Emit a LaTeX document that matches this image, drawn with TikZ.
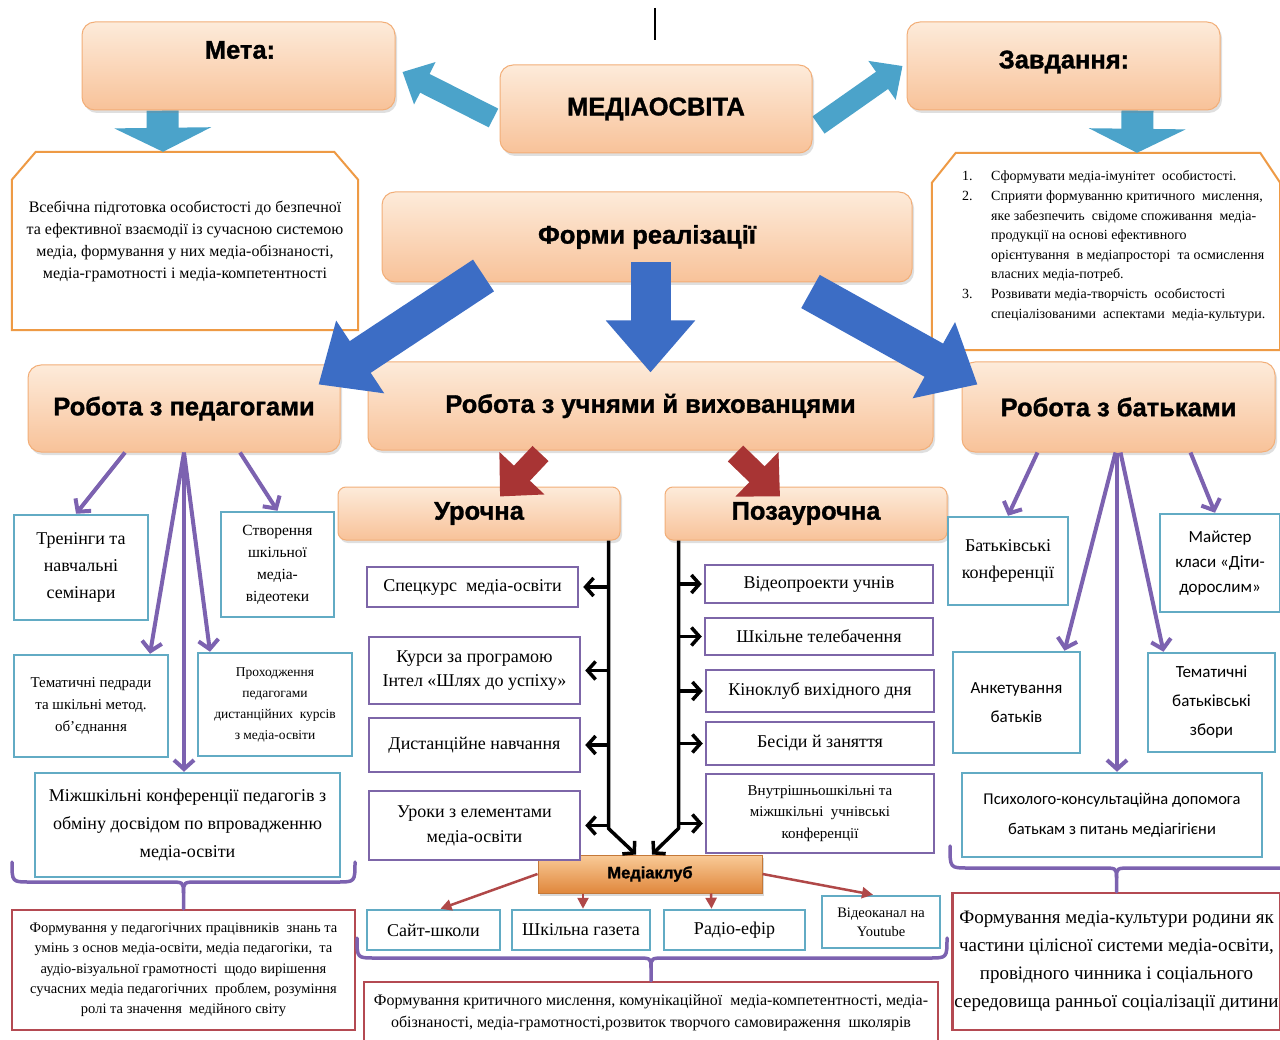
\documentclass[tikz,border=0pt]{standalone}
\usepackage{fontspec}
\setmainfont{Liberation Serif}
\newfontfamily\hdrfont{Liberation Sans}[BoldFeatures={FakeBold=1.2}]
\newfontfamily\calfont{Carlito}
\usetikzlibrary{arrows.meta,shadows,calc}
\pgfdeclarelayer{bg}
\pgfsetlayers{bg,main}
\definecolor{obTop}{HTML}{FDEBDA}
\definecolor{obBot}{HTML}{F8C299}
\definecolor{obLine}{HTML}{F2AE78}
\definecolor{mcTop}{HTML}{F9CB98}
\definecolor{mcBot}{HTML}{E0873C}
\definecolor{mcLine}{HTML}{C47838}
\definecolor{ltBlue}{HTML}{4BA3CA}
\definecolor{dkBlue}{HTML}{3C6DC5}
\definecolor{rArr}{HTML}{A83434}
\definecolor{rThin}{HTML}{B04848}
\definecolor{purp}{HTML}{7C62B0}
\definecolor{pBox}{HTML}{7D66A8}
\definecolor{tealB}{HTML}{62ABC4}
\definecolor{redB}{HTML}{B44A52}
\definecolor{octO}{HTML}{EE9A45}
\begin{document}
\begin{tikzpicture}[x=1pt,y=-1pt,
  obox/.style={rounded corners=13pt, draw=obLine, line width=1pt, top color=obTop, bottom color=obBot,
    drop shadow={opacity=0.25, shadow xshift=2pt, shadow yshift=-3pt}, inner sep=0pt},
  hd/.style={font=\hdrfont\bfseries\fontsize{25.5}{30}\selectfont},
  mcbox/.style={draw=mcLine, line width=1pt, top color=mcTop, bottom color=mcBot,
    drop shadow={opacity=0.3, shadow xshift=2pt, shadow yshift=-3pt}, inner sep=0pt,
    font=\hdrfont\bfseries\fontsize{16.5}{20}\selectfont},
  wbox/.style={draw, line width=2.5pt, fill=white, inner sep=2pt, align=center, font=\fontsize{18}{24}\selectfont},
  pbx/.style={wbox, draw=pBox},
  tbx/.style={wbox, draw=tealB},
  rbx/.style={wbox, draw=redB},
  octl/.style={draw=octO, line width=2pt, fill=white},
  lba/.style={draw=ltBlue, line width=32pt, -{Triangle[length=24pt,width=96pt]}},
  lbd/.style={draw=ltBlue, line width=21pt, -{Triangle[length=25pt,width=46pt]}},
  dba/.style={draw=dkBlue, line width=40pt, -{Triangle[length=52pt,width=86pt]}},
  dbd/.style={draw=dkBlue, line width=38pt, -{Triangle[length=50pt,width=84pt]}},
  ra/.style={draw=rArr, line width=22pt, -{Triangle[length=32pt,width=60pt]}},
  pa/.style={draw=purp, line width=4pt, -{Straight Barb[length=9pt,width=20pt]}},
  blk/.style={draw=black, line width=3.5pt, line join=round, -{Straight Barb[length=8pt,width=18pt]}},
  rth/.style={draw=rThin, line width=2.5pt, -{Triangle[length=11pt,width=11pt]}},
  brc/.style={draw=purp, line width=3.5pt, line cap=round, line join=round}]
\useasboundingbox (0,0) rectangle (1280,1040);

% orange boxes
\node[obox, minimum width=313pt, minimum height=88pt] (meta) at (238.5,66) {};
\node[hd] (metaT) at (240,50) {Мета:};
\node[obox, minimum width=312pt, minimum height=88pt, hd] (mo) at (656,109) {МЕДІАОСВІТА};
\node[obox, minimum width=313pt, minimum height=88pt] (zav) at (1063.5,66) {};
\node[hd] (zavT) at (1064,62) {Завдання:};
\node[obox, minimum width=530pt, minimum height=90pt, hd] (forms) at (647,237) {Форми реалізації};
\node[obox, minimum width=312pt, minimum height=87pt, hd] (ped) at (184,408.5) {Робота з педагогами};
\node[obox, minimum width=565pt, minimum height=88pt, hd] (uch) at (650.5,406) {Робота з учнями й вихованцями};
\node[obox, minimum width=313pt, minimum height=90pt, hd] (bat) at (1118.5,407) {Робота з батьками};
\node[obox, rounded corners=8pt, minimum width=282pt, minimum height=53pt, hd] (uro) at (479,513.5) {Урочна};
\node[obox, rounded corners=8pt, minimum width=282pt, minimum height=53pt, hd] (poz) at (806,513.5) {Позаурочна};
\node[mcbox, minimum width=224pt, minimum height=38pt] (mc) at (650,874) {Медіаклуб};

% text boxes at top
\node[minimum width=346pt, minimum height=178pt, inner sep=0pt, align=center, font=\fontsize{16}{22}\selectfont] (lt) at (185,241)
 {Всебічна підготовка особистості до безпечної\\та ефективної взаємодії із сучасною системою\\медіа, формування у них медіа-обізнаності,\\медіа-грамотності і медіа-компетентності};
\node[minimum width=348pt, minimum height=197pt, inner sep=0pt] (rt) at (1106,251.5) {};
\node[anchor=north west, inner sep=0pt, font=\fontsize{14}{19.6}\selectfont] (rtT) at (962,167)
 {\begin{tabular}{@{}p{29pt}@{}l@{}}
 1. & Сформувати медіа-імунітет\ \ особистості.\\
 2. & Сприяти формуванню критичного\ \ мислення,\\
    & яке забезпечить\ \ свідоме споживання\ \ медіа-\\
    & продукції на основі ефективного\\
    & орієнтування\ \ в медіапросторі\ \ та осмислення\\
    & власних медіа-потреб.\\
 3. & Розвивати медіа-творчість\ \ особистості\\
    & спеціалізованими\ \ аспектами\ \ медіа-культури.
 \end{tabular}};

% Urochna items
\node[pbx, minimum width=211pt, minimum height=40pt] (s1) at (472.5,587) {Спецкурс\ \ медіа-освіти};
\node[pbx, minimum width=211pt, minimum height=67pt] (s2) at (474.5,670.5) {Курси за програмою\\Інтел «Шлях до успіху»};
\node[pbx, minimum width=211pt, minimum height=54pt] (s3) at (474.5,745) {Дистанційне навчання};
\node[pbx, minimum width=211pt, minimum height=69pt, font=\fontsize{18}{25}\selectfont] (s4) at (474.5,825.5) {Уроки з елементами\\медіа-освіти};
% Pozaurochna items
\node[pbx, minimum width=228pt, minimum height=38pt] (p1) at (819,584) {Відеопроекти учнів};
\node[pbx, minimum width=228pt, minimum height=37pt] (p2) at (819,636.5) {Шкільне телебачення};
\node[pbx, minimum width=228pt, minimum height=42pt] (p3) at (820,691) {Кіноклуб вихідного дня};
\node[pbx, minimum width=228pt, minimum height=43pt] (p4) at (820,743.5) {Бесіди й заняття};
\node[pbx, minimum width=228pt, minimum height=79pt, font=\fontsize{15}{21.5}\selectfont] (p5) at (820,813.5) {Внутрішньошкільні та\\міжшкільні\ \ учнівські\\конференції};

% teacher items
\node[tbx, minimum width=134pt, minimum height=105pt, font=\fontsize{18}{27}\selectfont] (t1) at (81,567.5) {Тренінги та\\навчальні\\семінари};
\node[tbx, minimum width=113pt, minimum height=105pt, font=\fontsize{15.5}{22}\selectfont] (t2) at (277.5,564.5) {Створення\\шкільної\\медіа-\\відеотеки};
\node[tbx, minimum width=154pt, minimum height=102pt, font=\fontsize{15}{22}\selectfont] (t3) at (91,706) {Тематичні педради\\та шкільні метод.\\об’єднання};
\node[tbx, minimum width=154pt, minimum height=103pt, font=\fontsize{13.5}{21}\selectfont] (t4) at (275,704.5) {Проходження\\педагогами\\дистанційних\ \ курсів\\з медіа-освіти};
\node[tbx, minimum width=305pt, minimum height=104pt, font=\fontsize{18}{28}\selectfont] (t5) at (187.5,825) {Міжшкільні конференції педагогів з\\обміну досвідом по впровадженню\\медіа-освіти};

% parent items
\node[tbx, minimum width=120pt, minimum height=88pt, font=\fontsize{18}{27}\selectfont] (b1) at (1008,561) {Батьківські\\конференції};
\node[tbx, minimum width=120pt, minimum height=98pt, font=\calfont\fontsize{17}{25}\selectfont] (b2) at (1220,563) {Майстер\\класи «Діти-\\дорослим»};
\node[tbx, minimum width=127pt, minimum height=101pt, font=\calfont\fontsize{17}{29}\selectfont] (b3) at (1016.5,702.5) {Анкетування\\батьків};
\node[tbx, minimum width=127pt, minimum height=99pt, font=\calfont\fontsize{17}{29}\selectfont] (b4) at (1211.5,702.5) {Тематичні\\батьківські\\збори};
\node[tbx, minimum width=300pt, minimum height=84pt, font=\calfont\fontsize{16.5}{30}\selectfont] (b5) at (1112,815) {Психолого-консультаційна допомога\\батькам з питань медіагігієни};

% media club items
\node[tbx, minimum width=133pt, minimum height=40pt] (m1) at (433.5,930) {Сайт-школи};
\node[tbx, minimum width=138pt, minimum height=40pt] (m2) at (581,930) {Шкільна газета};
\node[tbx, minimum width=141pt, minimum height=40pt] (m3) at (734.5,930) {Радіо-ефір};
\node[tbx, minimum width=118pt, minimum height=52pt, font=\fontsize{14.5}{19}\selectfont] (m4) at (881,922) {Відеоканал на\\Youtube};

% red result boxes
\node[rbx, minimum width=343pt, minimum height=120pt, font=\fontsize{14.5}{20.3}\selectfont] (r1) at (183.5,970)
 {Формування у педагогічних працівників\ \ знань та\\умінь з основ медіа-освіти, медіа педагогіки,\ \ та\\аудіо-візуальної грамотності\ \ щодо вирішення\\сучасних медіа педагогічних\ \ проблем, розуміння\\ролі та значення\ \ медійного світу};
\node[rbx, minimum width=574pt, minimum height=62pt, font=\fontsize{16}{22}\selectfont] (r2) at (651,1013)
 {Формування критичного мислення, комунікаційної\ \ медіа-компетентності, медіа-\\обізнаності, медіа-грамотності,розвиток творчого самовираження\ \ школярів};
\node[rbx, minimum width=327pt, minimum height=137pt, font=\fontsize{19}{28}\selectfont] (r3) at (1116.5,961.5)
 {Формування медіа-культури родини як\\частини цілісної системи медіа-освіти,\\провідного чинника і соціального\\середовища ранньої соціалізації дитини};

% background layer: octagons, light blue arrows
\begin{pgfonlayer}{bg}
\fill[white] (0,0) rectangle (1280,1040);
\draw[octl] ([yshift=-28pt]lt.north west) -- ([xshift=24pt]lt.north west) -- ([xshift=-24pt]lt.north east)
  -- ([yshift=-28pt]lt.north east) -- (lt.south east) -- (lt.south west) -- cycle;
\draw[octl] ([yshift=-30pt]rt.north west) -- ([xshift=24pt]rt.north west) -- ([xshift=-20pt]rt.north east)
  -- ([yshift=-30pt]rt.north east) -- (rt.south east) -- (rt.south west) -- cycle;
\draw[lba] ([xshift=-76pt]meta.south) -- ([xshift=-22pt]lt.north);
\draw[lba] ([xshift=74pt]zav.south) -- ([xshift=31pt]rt.north);
\draw[lbd] ([xshift=-6pt,yshift=-9pt]mo.west) -- ([xshift=7pt,yshift=-6pt]meta.east);
\draw[lbd] ([xshift=6pt,yshift=-16pt]mo.east) -- ([xshift=-4pt]zav.west);
\end{pgfonlayer}

% red arrows
\draw[ra] ([xshift=-110pt,yshift=-3pt]uch.south) -- ([xshift=21pt,yshift=-10pt]uro.north);
\draw[ra] ([xshift=85pt,yshift=-3pt]uch.south) -- ([xshift=-26pt,yshift=-10pt]poz.north);

% dark blue arrows
\draw[dba] ([xshift=3.5pt,yshift=20pt]forms.south) -- ([yshift=-11pt]uch.north);
\draw[dbd] ([xshift=102pt,yshift=7pt]forms.south west) -- ([xshift=-22pt,yshift=-20pt]ped.north east);
\draw[dbd] ([xshift=-102pt,yshift=-9pt]forms.south east) -- ([xshift=16pt,yshift=-23pt]bat.north west);

% purple arrows
\draw[pa] ([xshift=-59pt]ped.south) -- ([xshift=-5pt]t1.north);
\draw[pa] (ped.south) -- ([xshift=59pt]t3.north);
\draw[pa] (ped.south) -- (ped.south |- t5.north);
\draw[pa] (ped.south) -- ([xshift=-65pt]t4.north);
\draw[pa] ([xshift=56pt]ped.south) -- (t2.north);
\draw[pa] ([xshift=-81pt]bat.south) -- (b1.north);
\draw[pa] ([xshift=-3pt]bat.south) -- ([xshift=48pt]b3.north);
\draw[pa] ([xshift=-1.5pt]bat.south) -- ([xshift=5pt]b5.north);
\draw[pa] ([xshift=2pt]bat.south) -- ([xshift=-48pt]b4.north);
\draw[pa] ([xshift=72pt]bat.south) -- ([xshift=-5pt]b2.north);

% black connectors
\coordinate (Lx) at (608,0);
\coordinate (Rx) at (679,0);
\draw[blk] ([xshift=-12pt]uro.south east) -- ++(0,288) -- ([xshift=-14pt]mc.north);
\draw[blk] ([xshift=14pt]poz.south west) -- ++(0,288) -- ([xshift=2pt]mc.north);
\foreach \n in {s1,s2,s3,s4} \draw[blk] (\n.east -| Lx) -- ([xshift=4pt]\n.east);
\foreach \n in {p1,p2,p3,p4} \draw[blk] (\n.west -| Rx) -- ([xshift=-2pt]\n.west);
\coordinate (p5a) at ([yshift=-10pt]p5.west);
\draw[blk] (p5a -| Rx) -- ([xshift=-2pt]p5a);

% media club arrows
\draw[rth] (mc.west) -- ([xshift=7pt]m1.north);
\draw[rth] ([xshift=-67pt]mc.south) -- ([xshift=2pt]m2.north);
\draw[rth] ([xshift=61pt]mc.south) -- ([xshift=-23pt]m3.north);
\draw[rth] (mc.east) -- ([xshift=-8pt]m4.north);

% braces
\draw[brc] (12,862) .. controls (12,882) .. (30,882) -- (168,882) .. controls (183.5,882) .. (183.5,893) -- (r1.north);
\draw[brc] (183.5,893) .. controls (183.5,882) .. (199,882) -- (337,882) .. controls (355,882) .. (355,862);
\draw[brc] (357,938) .. controls (357,958) .. (375,958) -- (636,958) .. controls (651,958) .. (651,968) -- (r2.north);
\draw[brc] (651,968) .. controls (651,958) .. (666,958) -- (929,958) .. controls (947,958) .. (947,938);
\draw[brc] (950,846) .. controls (950,868) .. (968,868) -- (1101,868) .. controls (1116.5,868) .. (1116.5,878) -- (r3.north);
\draw[brc] (1116.5,878) .. controls (1116.5,868) .. (1132,868) -- (1284,868);

% cursor mark
\draw[line width=2pt] (655,8) -- (655,40);
\end{tikzpicture}
\end{document}
